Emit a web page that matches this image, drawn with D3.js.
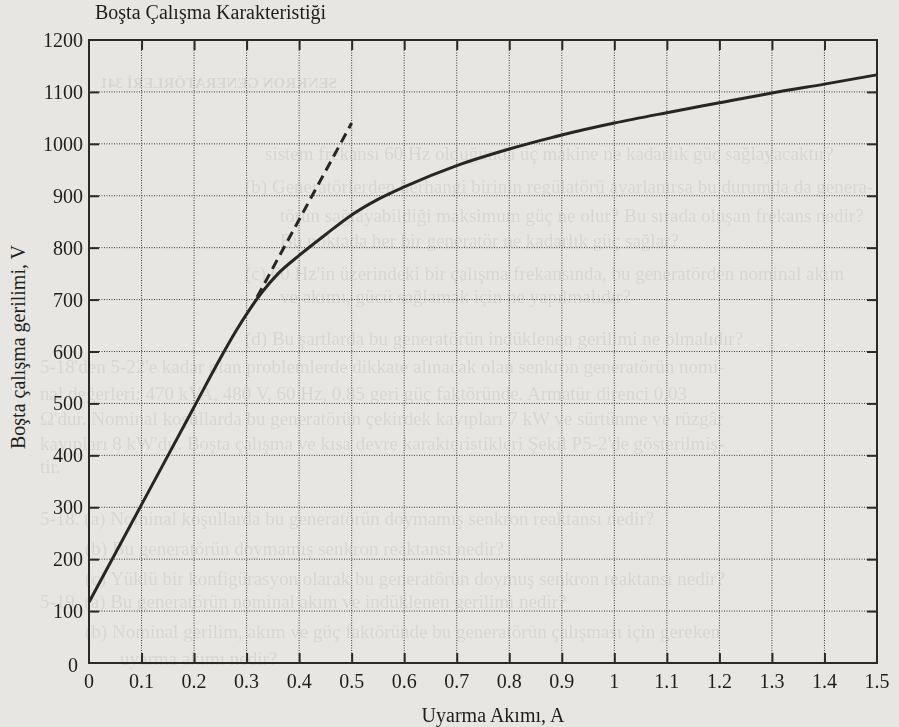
<!DOCTYPE html>
<html>
<head>
<meta charset="utf-8">
<script src="https://cdn.jsdelivr.net/npm/d3@7"></script>
<style>
  html, body { margin: 0; padding: 0; background: #e7e6e2; }
  svg { display: block; }
  text { font-family: "Liberation Serif", "DejaVu Serif", serif; fill: #1e1e1e; }
</style>
</head>
<body>
<div id="viz-container"></div>
<script>
const width = 899;
const height = 727;

// excitation current (A) -> open circuit voltage (V)
const currentVals = [0, 0.1, 0.2, 0.25, 0.28, 0.3, 0.33, 0.36, 0.4, 0.45, 0.5, 0.55, 0.6, 0.7, 0.8, 0.9, 1.0, 1.1, 1.2, 1.3, 1.4, 1.5];
const voltageVals = [117, 305, 493, 587, 640, 672, 715, 750, 785, 825, 863, 893, 917, 958, 990, 1017, 1040, 1060, 1079, 1098, 1115, 1133];

// air-gap line extension (dashed)
const airGapCurrent = [0.32, 0.5];
const airGapVoltage = [705, 1040];

const xTicks = [0, 0.1, 0.2, 0.3, 0.4, 0.5, 0.6, 0.7, 0.8, 0.9, 1, 1.1, 1.2, 1.3, 1.4, 1.5];
const xTickLabels = ["0", "0.1", "0.2", "0.3", "0.4", "0.5", "0.6", "0.7", "0.8", "0.9", "1", "1.1", "1.2", "1.3", "1.4", "1.5"];
const yTicks = [0, 100, 200, 300, 400, 500, 600, 700, 800, 900, 1000, 1100, 1200];

const title = "Boşta Çalışma Karakteristiği";
const xTitle = "Uyarma Akımı, A";
const yTitle = "Boşta çalışma gerilimi, V";

// faint show-through text from the scanned page
const ghostHeader = "SENKRON GENERATÖRLERİ   341";
const ghostLines = [
  [265, 160, "sistem frekansı 60 Hz olduğunda üç makine ne kadarlık güç sağlayacaktır?"],
  [245, 193, "(b) Generatörlerden herhangi birinin regülatörü ayarlanırsa bu durumda da genera-"],
  [280, 222, "törün sağlayabildiği maksimum güç ne olur? Bu sırada oluşan frekans nedir?"],
  [280, 247, "Bu noktada her bir generatör ne kadarlık güç sağlar?"],
  [245, 280, "(c) 60 Hz'in üzerindeki bir çalışma frekansında, bu generatörden nominal akım"],
  [280, 303, "ve akımı, gücü sağlamak için ne yapılmalıdır?"],
  [245, 345, "(d) Bu şartlarda bu generatörün indüklenen gerilimi ne olmalıdır?"],
  [40, 373, "5-18'den 5-22'e kadar olan problemlerde dikkate alınacak olan senkron generatörün nomi-"],
  [40, 400, "nal değerleri: 470 kVA, 480 V, 60 Hz, 0.85 geri güç faktöründe. Armatür direnci 0.03"],
  [40, 425, "Ω'dur. Nominal koşullarda bu generatörün çekirdek kayıpları 7 kW ve sürtünme ve rüzgâr"],
  [40, 450, "kayıpları 8 kW'dır. Boşta çalışma ve kısa devre karakteristikleri Şekil P5-2'de gösterilmiş-"],
  [40, 473, "tir."],
  [40, 525, "5-18. (a) Nominal koşullarda bu generatörün doymamış senkron reaktansı nedir?"],
  [85, 555, "(b) Bu generatörün doymamış senkron reaktansı nedir?"],
  [85, 585, "(c) Yüklü bir konfigürasyon olarak bu generatörün doymuş senkron reaktansı nedir?"],
  [40, 608, "5-19. (a) Bu generatörün nominal akım ve indüklenen gerilimi nedir?"],
  [85, 638, "(b) Nominal gerilim, akım ve güç faktöründe bu generatörün çalışması için gereken"],
  [120, 665, "uyarma akımı nedir?"]
];

const svg = d3
  .select("#viz-container")
  .append("svg")
  .attr("width", width)
  .attr("height", height);

svg.append("rect").attr("width", width).attr("height", height).attr("fill", "#e7e6e2");

// ghost text layer
const ghost = svg.append("g").attr("opacity", 0.07);
ghost
  .selectAll("text")
  .data(ghostLines)
  .enter()
  .append("text")
  .attr("x", (d) => d[0])
  .attr("y", (d) => d[1])
  .attr("font-size", 19)
  .style("fill", "#000")
  .text((d) => d[2]);
ghost
  .append("text")
  .attr("transform", "translate(337,88) scale(-1,1)")
  .attr("font-size", 15)
  .attr("font-weight", "bold")
  .style("fill", "#000")
  .text(ghostHeader);

const x = d3.scaleLinear().domain([0, 1.5]).range([89, 877]);
const y = d3.scaleLinear().domain([0, 1200]).range([663, 40]);

const x0 = x(0), x1 = x(1.5), y0 = y(0), y1 = y(1200);

// dotted grid
const grid = svg.append("g").attr("stroke", "#3a3a3a").attr("stroke-width", 1).attr("stroke-dasharray", "1,1.5");
grid
  .selectAll(".vgrid")
  .data(xTicks.slice(1, -1))
  .enter()
  .append("line")
  .attr("x1", (d) => x(d))
  .attr("x2", (d) => x(d))
  .attr("y1", y1)
  .attr("y2", y0);
grid
  .selectAll(".hgrid")
  .data(yTicks.slice(1, -1))
  .enter()
  .append("line")
  .attr("x1", x0)
  .attr("x2", x1)
  .attr("y1", (d) => y(d))
  .attr("y2", (d) => y(d));

// axes with inward ticks on all four sides
const tickLen = 10;
const axisStyle = (g) => {
  g.select(".domain").remove();
  g.selectAll(".tick line").attr("stroke", "#2a2a2a").attr("stroke-width", 2);
};

svg.append("g")
  .attr("transform", `translate(0,${y0})`)
  .call(d3.axisBottom(x).tickValues(xTicks.slice(1, -1)).tickSize(-tickLen).tickFormat(""))
  .call(axisStyle);
svg.append("g")
  .attr("transform", `translate(0,${y1})`)
  .call(d3.axisTop(x).tickValues(xTicks.slice(1, -1)).tickSize(-tickLen).tickFormat(""))
  .call(axisStyle);
svg.append("g")
  .attr("transform", `translate(${x0},0)`)
  .call(d3.axisLeft(y).tickValues(yTicks.slice(1, -1)).tickSize(-tickLen).tickFormat(""))
  .call(axisStyle);
svg.append("g")
  .attr("transform", `translate(${x1},0)`)
  .call(d3.axisRight(y).tickValues(yTicks.slice(1, -1)).tickSize(-tickLen).tickFormat(""))
  .call(axisStyle);

// frame
svg.append("rect")
  .attr("x", x0)
  .attr("y", y1)
  .attr("width", x1 - x0)
  .attr("height", y0 - y1)
  .attr("fill", "none")
  .attr("stroke", "#2a2a2a")
  .attr("stroke-width", 2);

// tick labels
svg.append("g")
  .selectAll("text")
  .data(xTicks)
  .enter()
  .append("text")
  .attr("x", (d) => x(d))
  .attr("y", 688)
  .attr("text-anchor", "middle")
  .attr("font-size", 20)
  .text((d, i) => xTickLabels[i]);

svg.append("g")
  .selectAll("text")
  .data(yTicks)
  .enter()
  .append("text")
  .attr("x", (d) => (d === 0 ? 78 : 83))
  .attr("y", (d) => y(d))
  .attr("dy", (d) => (d === 0 ? "0.45em" : "0.35em"))
  .attr("text-anchor", "end")
  .attr("font-size", 20)
  .text((d) => d);

// titles
svg.append("text")
  .attr("x", 95)
  .attr("y", 19)
  .attr("font-size", 20)
  .text(title);

svg.append("text")
  .attr("x", 493)
  .attr("y", 722)
  .attr("text-anchor", "middle")
  .attr("font-size", 20)
  .text(xTitle);

svg.append("text")
  .attr("transform", "translate(25,347) rotate(-90)")
  .attr("text-anchor", "middle")
  .attr("font-size", 20)
  .text(yTitle);

// curves
const occData = currentVals.map((c, i) => ({ c: c, v: voltageVals[i] }));
const airData = airGapCurrent.map((c, i) => ({ c: c, v: airGapVoltage[i] }));

const line = d3
  .line()
  .x((d) => x(d.c))
  .y((d) => y(d.v))
  .curve(d3.curveMonotoneX);

svg.append("path")
  .datum(occData)
  .attr("d", line)
  .attr("fill", "none")
  .attr("stroke", "#262626")
  .attr("stroke-width", 3);

svg.append("path")
  .datum(airData)
  .attr("d", d3.line().x((d) => x(d.c)).y((d) => y(d.v)))
  .attr("fill", "none")
  .attr("stroke", "#262626")
  .attr("stroke-width", 3)
  .attr("stroke-dasharray", "10,6");
</script>
</body>
</html>
